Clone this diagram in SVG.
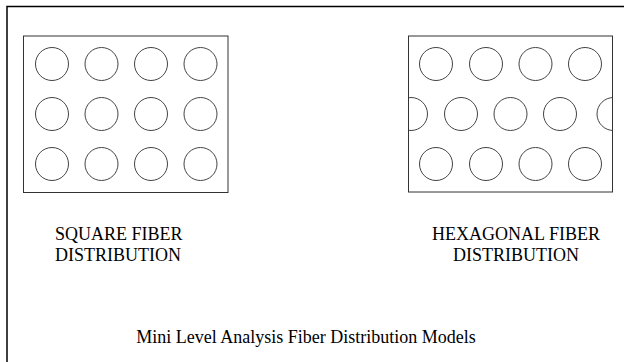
<svg xmlns="http://www.w3.org/2000/svg" width="624" height="362" viewBox="0 0 624 362">
<style>
.frame{fill:none;stroke:#000;stroke-width:1.5}
.box{fill:#fff;stroke:#333;stroke-width:1}
.f{fill:none;stroke:#444;stroke-width:1}
.t{font-size:18px;fill:#000}
</style>
<defs>
<clipPath id="hexclip"><rect x="408.5" y="36" width="204" height="156"/></clipPath>
</defs>
<rect width="624" height="362" fill="#fff"/>
<path class="frame" d="M7,362 V6.5 H624"/>
<g id="square">
<rect class="box" x="23.5" y="36" width="204.5" height="156.5"/>
<g class="f">
<circle cx="52" cy="64" r="16.5"/><circle cx="101.5" cy="64" r="16.5"/><circle cx="151" cy="64" r="16.5"/><circle cx="200.5" cy="64" r="16.5"/>
<circle cx="52" cy="114" r="16.5"/><circle cx="101.5" cy="114" r="16.5"/><circle cx="151" cy="114" r="16.5"/><circle cx="200.5" cy="114" r="16.5"/>
<circle cx="52" cy="164" r="16.5"/><circle cx="101.5" cy="164" r="16.5"/><circle cx="151" cy="164" r="16.5"/><circle cx="200.5" cy="164" r="16.5"/>
</g>
</g>
<g id="hexagonal">
<rect class="box" x="408.5" y="36" width="204" height="156"/>
<g class="f" clip-path="url(#hexclip)">
<circle cx="436" cy="64" r="16.5"/><circle cx="486" cy="64" r="16.5"/><circle cx="535.5" cy="64" r="16.5"/><circle cx="585" cy="64" r="16.5"/>
<circle cx="411" cy="114" r="16.5"/><circle cx="461" cy="114" r="16.5"/><circle cx="510.5" cy="114" r="16.5"/><circle cx="560" cy="114" r="16.5"/><circle cx="613.5" cy="114" r="16.5"/>
<circle cx="436" cy="164" r="16.5"/><circle cx="486" cy="164" r="16.5"/><circle cx="535.5" cy="164" r="16.5"/><circle cx="585" cy="164" r="16.5"/>
</g>
</g>
<g font-family="'Liberation Serif', 'Times New Roman', serif">
<g id="square-label">
<text class="t" x="55" y="240">SQUARE FIBER</text>
<text class="t" x="55" y="260.5">DISTRIBUTION</text>
</g>
<g id="hex-label">
<text class="t" x="516" y="240" text-anchor="middle">HEXAGONAL FIBER</text>
<text class="t" x="516" y="260.5" text-anchor="middle">DISTRIBUTION</text>
</g>
<g id="title">
<text class="t" x="306" y="342.5" text-anchor="middle">Mini Level Analysis Fiber Distribution Models</text>
</g>
</g>
<g id="connectors"/>
</svg>
